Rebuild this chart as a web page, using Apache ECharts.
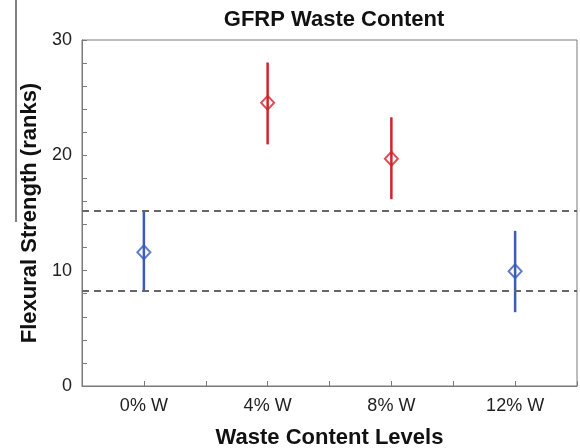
<!DOCTYPE html>
<html>
<head>
<meta charset="utf-8">
<script src="https://cdn.jsdelivr.net/npm/echarts@6/dist/echarts.min.js"></script>
<style>
  html, body { margin: 0; padding: 0; background: #fff; }
  #chart { width: 580px; height: 448px; }
</style>
</head>
<body>
<div id="chart"></div>
<script>
// categories and values
var categories = ['0% W', '4% W', '8% W', '12% W'];
var means = [11.6, 24.55, 19.7, 9.95];
var lower = [8.25, 20.95, 16.2, 6.4];
var upper = [15.2, 28.05, 23.3, 13.45];
// r = differs from control, b = same as control
var groups = ['b', 'r', 'r', 'b'];
var refLines = [15.2, 8.25];
var yTicks = [0, 10, 20, 30];

var colors = { r: '#d0242a', b: '#3a5cb8' };

var chart = echarts.init(document.getElementById('chart'));

var points = categories.map(function (c, i) {
  return {
    value: [i, means[i]],
    itemStyle: { borderColor: colors[groups[i]] }
  };
});
var bars = categories.map(function (c, i) {
  return [i, lower[i], upper[i], groups[i]];
});

var option = {
  animation: false,
  textStyle: { fontFamily: 'Liberation Sans, Arial, sans-serif' },
  title: {
    text: 'GFRP Waste Content',
    left: 329,
    textAlign: 'center',
    top: 4,
    textStyle: { fontSize: 22, fontWeight: 'bold', color: '#111' }
  },
  grid: {
    left: 82, right: 3, top: 40, bottom: 62,
    outerBoundsMode: 'none',
    containLabel: false,
    show: true, borderColor: '#7a7a7a', borderWidth: 1
  },
  xAxis: {
    type: 'value',
    min: -0.5, max: 3.5, interval: 0.5,
    name: 'Waste Content Levels',
    nameLocation: 'middle',
    nameGap: 41,
    nameTextStyle: { fontSize: 22, fontWeight: 'bold', color: '#111' },
    axisLine: { onZero: false, lineStyle: { color: '#7a7a7a' } },
    axisTick: { inside: true, length: 5, lineStyle: { color: '#7a7a7a' } },
    splitLine: { show: false },
    axisLabel: {
      fontSize: 18, color: '#222', margin: 11,
      formatter: function (v) {
        return Number.isInteger(v) && categories[v] ? categories[v] : '';
      }
    }
  },
  yAxis: {
    type: 'value',
    min: yTicks[0], max: yTicks[yTicks.length - 1], interval: 10,
    name: 'Flexural Strength (ranks)',
    nameLocation: 'middle',
    nameGap: 40,
    nameTextStyle: { fontSize: 22, fontWeight: 'bold', color: '#111' },
    axisLine: { show: true, onZero: false, lineStyle: { color: '#7a7a7a' } },
    axisTick: { inside: true, length: 5, lineStyle: { color: '#7a7a7a' } },
    minorTick: { show: true, splitNumber: 5, length: 5, lineStyle: { color: '#7a7a7a' } },
    splitLine: { show: false },
    axisLabel: { fontSize: 18, color: '#222', margin: 10 }
  },
  graphic: [{
    type: 'line',
    shape: { x1: 16, y1: 0, x2: 16, y2: 222 },
    style: { stroke: '#000', lineWidth: 1 }
  }],
  series: [
    {
      type: 'custom',
      data: bars,
      z: 2,
      renderItem: function (params, api) {
        var top = api.coord([api.value(0), api.value(2)]);
        var bot = api.coord([api.value(0), api.value(1)]);
        return {
          type: 'line',
          shape: { x1: top[0], y1: top[1], x2: bot[0], y2: bot[1] },
          style: { stroke: colors[bars[params.dataIndex][3]], lineWidth: 2.5 }
        };
      },
      markLine: {
        silent: true,
        symbol: 'none',
        label: { show: false },
        lineStyle: { color: '#666', type: [7, 5], width: 2 },
        data: refLines.map(function (v) { return { yAxis: v }; })
      }
    },
    {
      type: 'scatter',
      data: points,
      z: 3,
      symbol: 'diamond',
      symbolSize: [13, 14],
      itemStyle: { color: 'rgba(255,255,255,0)', borderWidth: 2 }
    }
  ]
};

chart.setOption(option);
</script>
</body>
</html>
